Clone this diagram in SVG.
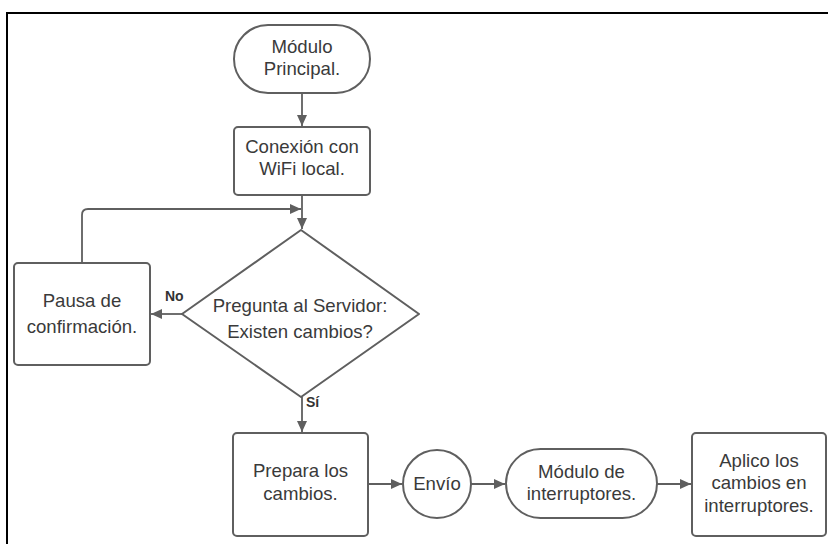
<svg xmlns="http://www.w3.org/2000/svg" width="828" height="544" viewBox="0 0 828 544">
<defs>
<style>
.n{fill:#fff;stroke:#5f5f5f;stroke-width:2}
.t{font-family:"Liberation Sans",Arial,sans-serif;font-size:18.6px;fill:#3a3a3a;text-anchor:middle}
.l{font-family:"Liberation Sans",Arial,sans-serif;font-size:14px;font-weight:bold;fill:#333}
.c{fill:none;stroke:#5f5f5f;stroke-width:1.8}
</style>
<marker id="ah" viewBox="0 0 11 10" refX="11" refY="5" markerWidth="11" markerHeight="10" markerUnits="userSpaceOnUse" orient="auto">
<path d="M0,0 L11,5 L0,10 Z" fill="#5f5f5f"/>
</marker>
</defs>
<rect width="828" height="544" fill="#fff"/>
<path d="M7,544 V13 H828" fill="none" stroke="#000" stroke-width="2"/>
<g id="connectors">
<path class="c" d="M302,93 V126" marker-end="url(#ah)"/>
<path class="c" d="M302,195 V229" marker-end="url(#ah)"/>
<path class="c" d="M82,263 V215 Q82,209 88,209 H301" marker-end="url(#ah)"/>
<path class="c" d="M182,314 H151" marker-end="url(#ah)"/>
<path class="c" d="M302,397 V432" marker-end="url(#ah)"/>
<path class="c" d="M368,484 H402" marker-end="url(#ah)"/>
<path class="c" d="M471,484 H505" marker-end="url(#ah)"/>
<path class="c" d="M657,484 H691" marker-end="url(#ah)"/>
<text class="l" x="165" y="301">No</text>
<text class="l" x="306" y="407">Sí</text>
</g>
<g id="modulo-principal">
<rect class="n" x="234" y="25" width="136" height="68" rx="34" ry="34"/>
<text class="t" x="302" y="53">Módulo</text>
<text class="t" x="302" y="75">Principal.</text>
</g>
<g id="conexion-wifi">
<rect class="n" x="234" y="127" width="136" height="68" rx="4"/>
<text class="t" x="302" y="153">Conexión con</text>
<text class="t" x="302" y="175">WiFi local.</text>
</g>
<g id="pregunta-servidor">
<path class="n" d="M301,230 L419,314 L301,397 L182,314 Z" stroke-linejoin="round"/>
<text class="t" x="300" y="312">Pregunta al Servidor:</text>
<text class="t" x="300" y="338">Existen cambios?</text>
</g>
<g id="pausa-confirmacion">
<rect class="n" x="14" y="263" width="136" height="102" rx="4"/>
<text class="t" x="82" y="307">Pausa de</text>
<text class="t" x="82" y="333">confirmación.</text>
</g>
<g id="prepara-cambios">
<rect class="n" x="233" y="433" width="135" height="103" rx="4"/>
<text class="t" x="300.5" y="477">Prepara los</text>
<text class="t" x="300.5" y="500">cambios.</text>
</g>
<g id="envio">
<circle class="n" cx="437" cy="484" r="34"/>
<text class="t" x="437" y="490">Envío</text>
</g>
<g id="modulo-interruptores">
<rect class="n" x="506" y="449" width="151" height="69" rx="34.5" ry="34.5"/>
<text class="t" x="581.5" y="478">Módulo de</text>
<text class="t" x="581.5" y="500">interruptores.</text>
</g>
<g id="aplico-cambios">
<rect class="n" x="692" y="433" width="134" height="103" rx="4"/>
<text class="t" x="759" y="467">Aplico los</text>
<text class="t" x="759" y="489">cambios en</text>
<text class="t" x="759" y="512">interruptores.</text>
</g>
</svg>
